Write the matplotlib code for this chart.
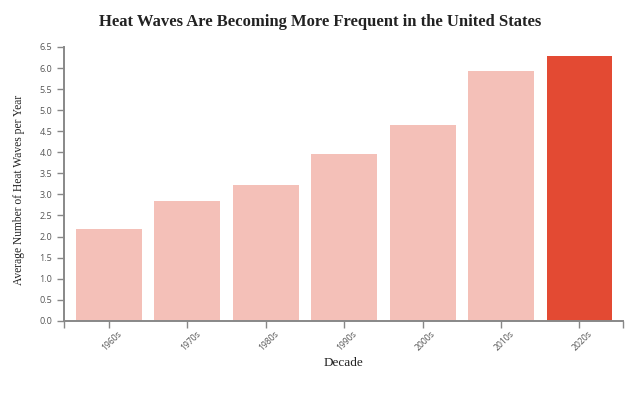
import matplotlib
matplotlib.use("Agg")
import matplotlib.pyplot as plt
from matplotlib.transforms import ScaledTranslation

decades = ["1960s", "1970s", "1980s", "1990s", "2000s", "2010s", "2020s"]
values = [2.18, 2.84, 3.22, 3.95, 4.66, 5.94, 6.28]
y_ticks = [0.0, 0.5, 1.0, 1.5, 2.0, 2.5, 3.0, 3.5, 4.0, 4.5, 5.0, 5.5, 6.0, 6.5]
highlight = "2020s"

light = "#f4c0b8"
dark = "#e34a33"
axis_col = "#888888"
tick_text = "#555555"

fig = plt.figure(figsize=(6.4, 4.0), dpi=100)
ax = fig.add_axes([0.1, 0.198, 0.874, 0.6845])

x = list(range(len(decades)))
colors = [dark if d == highlight else light for d in decades]
ax.bar(x, values, width=0.84, color=colors)

ax.set_xlim(-0.574, len(decades) - 1 + 0.56)
ax.set_ylim(0, 6.5)
ax.set_yticks(y_ticks)
ax.set_yticklabels([f"{t:.1f}" for t in y_ticks])
ax.set_xticks(x)
ax.set_xticklabels(decades, rotation=45, ha="right", rotation_mode="anchor")

for s in ["top", "right"]:
    ax.spines[s].set_visible(False)
for s in ["left", "bottom"]:
    ax.spines[s].set_color(axis_col)
    ax.spines[s].set_linewidth(1.4)

ax.tick_params(axis="both", colors=axis_col, length=5, width=1, labelcolor=tick_text, labelsize=6.5)
ax.tick_params(axis="x", labelsize=6.2)
for lab in ax.get_xticklabels() + ax.get_yticklabels():
    lab.set_family("Open Sans")
shift = ScaledTranslation(6 / 72, 2.5 / 72, fig.dpi_scale_trans)
for lab in ax.get_xticklabels():
    lab.set_transform(lab.get_transform() + shift)

# end ticks of the x domain
ax.set_xticks([-0.574, len(decades) - 1 + 0.56], minor=True)
ax.tick_params(axis="x", which="minor", length=5, width=1, colors=axis_col)

ax.set_xlabel("Decade", family="Liberation Serif", fontsize=9.5, color="#222222", labelpad=3)
ax.set_ylabel("Average Number of Heat Waves per Year", family="Liberation Serif", fontsize=8.3,
              color="#222222")
ax.yaxis.set_label_coords(-0.070, 0.478)

fig.text(0.5, 1 - 26 / 400, "Heat Waves Are Becoming More Frequent in the United States",
         ha="center", va="baseline", family="Liberation Serif", fontweight="bold",
         fontsize=12.0, color="#222222")

fig.savefig("out.png", dpi=100, facecolor="white")
